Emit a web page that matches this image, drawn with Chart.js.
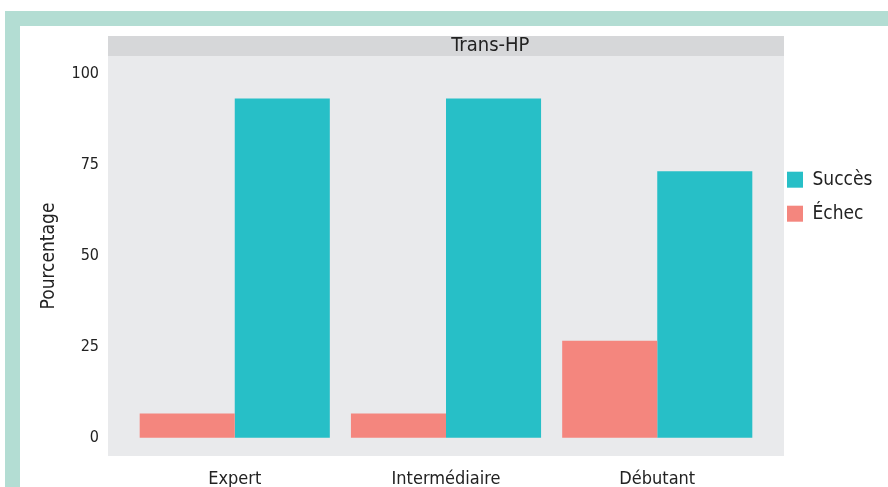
<!DOCTYPE html>
<html>
<head>
<meta charset="utf-8">
<script src="https://cdn.jsdelivr.net/npm/chart.js@4.4.1/dist/chart.umd.min.js"></script>
<style>
  html, body { margin: 0; padding: 0; background: #fff; }
  #frame {
    position: absolute; left: 5px; top: 11px;
    width: 868px; height: 461px;
    border-top: 15px solid #b3ddd3;
    border-left: 15px solid #b3ddd3;
    background: #fff;
  }
  #chart { display: block; }
</style>
</head>
<body>
<div id="frame"><canvas id="chart" width="868" height="461"></canvas></div>
<script>
const categories = ['Expert', 'Intermédiaire', 'Débutant'];
const echec = [6.7, 6.7, 26.7];
const succes = [93.3, 93.3, 73.3];
const yTicks = [0, 25, 50, 75, 100];
const facetLabel = 'Trans-HP';

const fontFamily = "'DejaVu Sans Condensed', 'Liberation Sans Narrow', 'Open Sans', sans-serif";
const textColor = '#222';

// panel background + facet strip, like ggplot
const panelPlugin = {
  id: 'panel',
  beforeDraw(chart) {
    const { ctx, chartArea: a } = chart;
    ctx.save();
    ctx.fillStyle = '#e9eaec';
    ctx.fillRect(a.left, a.top, a.right - a.left, a.bottom - a.top);
    ctx.fillStyle = '#d6d7d9';
    ctx.fillRect(a.left, a.top - 20, a.right - a.left, 20);
    ctx.fillStyle = textColor;
    ctx.font = '20px ' + fontFamily;
    ctx.textAlign = 'center';
    ctx.textBaseline = 'middle';
    ctx.fillText(facetLabel, a.left + (a.right - a.left) * 0.5656, a.top - 10);
    ctx.restore();
  }
};

// pull the legend closer to the panel
const legendShift = {
  id: 'legendShift',
  afterLayout(chart) {
    chart.legend.left -= 12;
    chart.legend.right -= 12;
  }
};

const toPoints = vals => vals.map((v, i) => ({ x: i + 1, y: v }));

new Chart(document.getElementById('chart'), {
  type: 'bar',
  data: {
    datasets: [
      { label: 'Échec', data: toPoints(echec), backgroundColor: '#f4867e' },
      { label: 'Succès', data: toPoints(succes), backgroundColor: '#27bfc7' }
    ]
  },
  options: {
    responsive: false,
    animation: false,
    layout: { padding: { top: 30, right: 0 } },
    datasets: { bar: { categoryPercentage: 0.9, barPercentage: 1 } },
    scales: {
      x: {
        type: 'linear',
        min: 0.4,
        max: 3.6,
        offset: false,
        grid: { display: false },
        border: { display: false },
        afterBuildTicks: s => { s.ticks = categories.map((c, i) => ({ value: i + 1 })); },
        afterFit: s => { s.height = 31; s.paddingLeft = 0; s.paddingRight = 0; },
        ticks: {
          autoSkip: false,
          maxRotation: 0,
          padding: 5,
          color: textColor,
          font: { family: fontFamily, size: 18 },
          callback: v => categories[v - 1]
        }
      },
      y: {
        min: -5,
        max: 105,
        grid: { display: false, drawTicks: false },
        border: { display: false },
        afterBuildTicks: s => { s.ticks = yTicks.map(v => ({ value: v })); },
        afterFit: s => { s.width = 88; s.paddingTop = 0; s.paddingBottom = 0; },
        ticks: {
          padding: 9,
          color: textColor,
          font: { family: fontFamily, size: 16 }
        },
        title: {
          display: true,
          text: 'Pourcentage',
          color: textColor,
          font: { family: fontFamily, size: 19 },
          padding: { top: 18, bottom: 0 }
        }
      }
    },
    plugins: {
      tooltip: { enabled: false },
      legend: {
        position: 'right',
        align: 'start',
        reverse: true,
        maxWidth: 104,
        title: { display: true, text: '', font: { size: 12 }, padding: { top: 84.8, bottom: 0 } },
        labels: {
          boxWidth: 16,
          boxHeight: 16,
          padding: 15,
          color: textColor,
          font: { family: fontFamily, size: 19 }
        }
      }
    }
  },
  plugins: [panelPlugin, legendShift]
});
</script>
</body>
</html>
